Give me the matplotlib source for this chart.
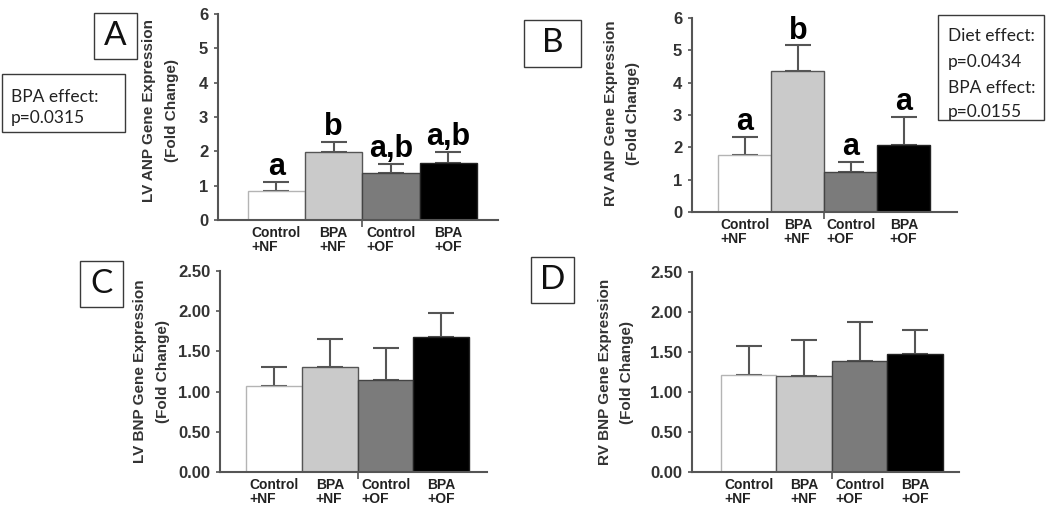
import matplotlib
matplotlib.use("Agg")
import matplotlib.pyplot as plt
from matplotlib.patches import Rectangle
import numpy as np

groups = ["Control\n+NF", "BPA\n+NF", "Control\n+OF", "BPA\n+OF"]

lv_anp = [0.85, 1.99, 1.36, 1.67]
lv_anp_err = [0.27, 0.29, 0.27, 0.31]
lv_anp_letters = ["a", "b", "a,b", "a,b"]

rv_anp = [1.76, 4.36, 1.23, 2.07]
rv_anp_err = [0.57, 0.79, 0.31, 0.86]
rv_anp_letters = ["a", "b", "a", "a"]

lv_bnp = [1.07, 1.30, 1.15, 1.68]
lv_bnp_err = [0.24, 0.36, 0.39, 0.30]

rv_bnp = [1.21, 1.20, 1.39, 1.48]
rv_bnp_err = [0.36, 0.45, 0.48, 0.29]

W, H = 1050, 514
bar_colors = ["#ffffff", "#cacaca", "#7b7b7b", "#000000"]
edge_colors = ["#b4b4b4", "#555555", "#444444", "#222222"]
axis_col = "#555555"

plt.rcParams["font.family"] = ["Liberation Sans", "DejaVu Sans"]

fig = plt.figure(figsize=(W / 100, H / 100), dpi=100)


def px_axes(left, top, right, bottom):
    return fig.add_axes([left / W, 1 - bottom / H, (right - left) / W, (bottom - top) / H])


def panel(ax, vals, errs, ylabel, ymax, yticks, fmt, xlim, label_xy, letters=None):
    x = np.arange(len(vals))
    ax.bar(x, vals, width=1.0, color=bar_colors, edgecolor=edge_colors, linewidth=1.0, zorder=2)
    ax.errorbar(x, vals, yerr=[np.zeros(len(errs)), errs], fmt="none", ecolor=axis_col,
                elinewidth=1.5, capsize=9.5, capthick=1.5, zorder=1)
    if letters:
        for xi, v, e, t in zip(x, vals, errs, letters):
            ax.annotate(t, (xi, v + e), xytext=(0, 5), textcoords="offset points",
                        ha="center", va="baseline", fontsize=22, fontweight="bold")
    ax.set_xlim(*xlim)
    ax.set_ylim(0, ymax)
    ax.set_yticks(yticks)
    ax.set_yticklabels([fmt % t for t in yticks], fontsize=12, fontweight="bold", color="#333333")
    ax.set_xticks(x)
    ax.set_xticklabels(groups, fontsize=10, fontweight="bold", linespacing=1.0,
                       multialignment="left", color="#222222")
    ax.tick_params(axis="x", length=0, pad=4)
    ax.set_xticks([1.5], minor=True)
    ax.tick_params(axis="x", which="minor", length=5, width=1.2, color=axis_col)
    ax.tick_params(axis="y", length=3, width=1.2, color=axis_col, pad=4)
    for s in ["top", "right"]:
        ax.spines[s].set_visible(False)
    for s in ["left", "bottom"]:
        ax.spines[s].set_color(axis_col)
        ax.spines[s].set_linewidth(1.5)
    ax.set_ylabel(ylabel, fontsize=11, fontweight="bold", va="center", color="#333333",
                  linespacing=1.8)
    ax.yaxis.set_label_coords(*label_xy)


def box(x0, y0, x1, y1):
    fig.patches.append(Rectangle((x0 / W, 1 - y1 / H), (x1 - x0) / W, (y1 - y0) / H,
                                 transform=fig.transFigure, fill=False,
                                 edgecolor="#3a3a3a", linewidth=1.0))


def letter_box(x0, y0, x1, y1, t):
    box(x0, y0, x1, y1)
    fig.text((x0 + x1) / 2 / W, 1 - (y0 + y1) / 2 / H, t, ha="center", va="center",
             fontsize=24, family=["Lato", "DejaVu Sans"], color="#111111")


def note(x, baselines, lines):
    for b, t in zip(baselines, lines):
        fig.text(x / W, 1 - b / H, t, ha="left", va="baseline", fontsize=12.5,
                 family=["Lato", "DejaVu Sans"], color="#222222")


# A - LV ANP
axA = px_axes(218, 14, 498, 220)
panel(axA, lv_anp, lv_anp_err, "LV ANP Gene Expression\n(Fold Change)", 6, list(range(7)), "%d",
      (-1.02, 3.87), (-0.204, 0.53), lv_anp_letters)

# B - RV ANP
axB = px_axes(692, 18, 957, 212)
panel(axB, rv_anp, rv_anp_err, "RV ANP Gene Expression\n(Fold Change)", 6, list(range(7)), "%d",
      (-1.0, 4.0), (-0.264, 0.51), rv_anp_letters)

# C - LV BNP
axC = px_axes(220, 271, 487, 472)
panel(axC, lv_bnp, lv_bnp_err, "LV BNP Gene Expression\n(Fold Change)", 2.5,
      [0, 0.5, 1.0, 1.5, 2.0, 2.5], "%.2f", (-0.97, 3.82), (-0.258, 0.5))

# D - RV BNP
axD = px_axes(692, 272, 959, 472)
panel(axD, rv_bnp, rv_bnp_err, "RV BNP Gene Expression\n(Fold Change)", 2.5,
      [0, 0.5, 1.0, 1.5, 2.0, 2.5], "%.2f", (-1.02, 3.79), (-0.285, 0.5))

letter_box(94, 13, 137, 59, "A")
letter_box(524, 20, 581, 67, "B")
letter_box(80, 261, 123, 307, "C")
letter_box(531, 257, 574, 303, "D")

box(2, 74, 125, 132)
note(11, [102, 123], ["BPA effect:", "p=0.0315"])

box(938, 15, 1044, 120)
note(948, [41, 67, 93, 117], ["Diet effect:", "p=0.0434", "BPA effect:", "p=0.0155"])

fig.savefig("out.png", dpi=100, facecolor="white")
